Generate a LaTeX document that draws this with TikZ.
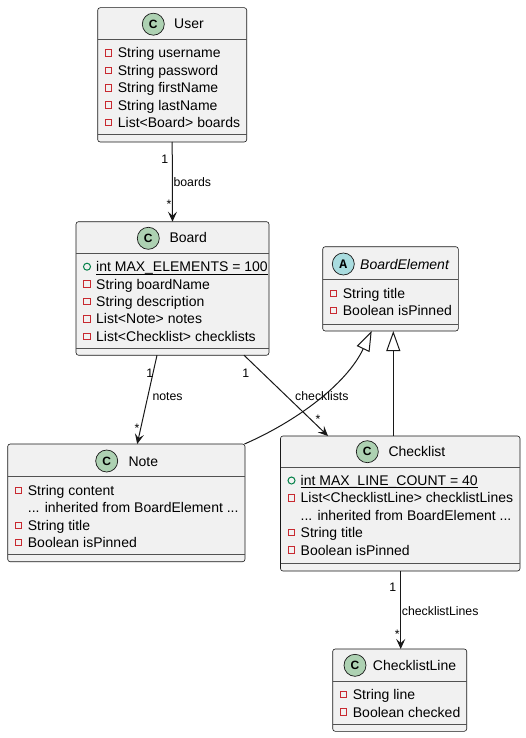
\documentclass[tikz,border=0pt]{standalone}
\usepackage{fontspec}
\setmainfont{Liberation Sans}
\newfontfamily\monob{Liberation Mono}
\usetikzlibrary{arrows.meta}
\definecolor{boxfill}{HTML}{F1F1F1}
\definecolor{boxline}{HTML}{181818}
\definecolor{cfill}{HTML}{ADD1B2}
\definecolor{afill}{HTML}{A9DCDF}
\definecolor{privred}{HTML}{C82930}
\definecolor{pubgreen}{HTML}{038048}
\tikzset{
 cbox/.style={draw=boxline, fill=boxfill, line width=0.6pt, rounded corners=2.5pt, anchor=north west, inner sep=0pt, outer sep=0pt},
 sepline/.style={draw=boxline!75, line width=0.6pt},
 cicon/.style={circle, draw=boxline, fill=cfill, line width=0.7pt, minimum size=22pt, inner sep=0pt, font=\fontsize{12}{12}\selectfont\bfseries},
 aicon/.style={cicon, fill=afill, font=\fontsize{13}{13}\selectfont\monob\bfseries},
 ctitle/.style={anchor=base west, inner sep=0pt, font=\fontsize{14}{16}\selectfont},
 attr/.style={anchor=base west, inner sep=0pt, font=\fontsize{14}{16}\selectfont},
 priv/.style={draw=privred, line width=1pt, minimum size=6.5pt, inner sep=0pt, rectangle},
 pub/.style={draw=pubgreen, line width=1pt, circle, minimum size=7pt, inner sep=0pt},
 lbl/.style={inner sep=0pt, font=\fontsize{12.3}{14}\selectfont},
 assoc/.style={draw=boxline, line width=1pt, -{Stealth[length=10pt,width=9pt,inset=4pt]}},
 inherit/.style={draw=boxline, line width=1pt, -{Triangle[open,length=20pt,width=14pt]}},
}
\newsavebox\myulbox
\newcommand\myul[1]{\sbox\myulbox{#1}\usebox\myulbox\llap{\rule[-2.9pt]{\wd\myulbox}{1pt}}}
\newcommand\myprivattr[4]{\node[priv] (#1i) at ({#2+11},{#3-5}) {}; \node[attr] (#1) at ({#2+20},#3) {#4};}
\newcommand\mypubattr[4]{\node[pub] (#1i) at ({#2+11},{#3-5}) {}; \node[attr] (#1) at ({#2+20},#3) {\myul{#4}};}
\newcommand\myplainattr[4]{\node[attr] (#1) at ({#2+20},#3) {#4};}
\begin{document}
\begin{tikzpicture}[x=1pt,y=-1pt]
\useasboundingbox (0,0) rectangle (526,738);

% ---------- User
\node[cbox, minimum width=149pt, minimum height=134.3pt] (user) at (97.7,7.7) {};
\draw[sepline] ([yshift=-31.5pt]user.north west) -- ([yshift=-31.5pt]user.north east);
\draw[sepline] ([yshift=8pt]user.south west) -- ([yshift=8pt]user.south east);
\node[cicon] (userc) at (153.3,24.2) {C};
\node[ctitle] (usert) at (174,29) {User};
\myprivattr{u1}{97.7}{58}{String username}
\myprivattr{u2}{97.7}{75.4}{String password}
\myprivattr{u3}{97.7}{92.8}{String firstName}
\myprivattr{u4}{97.7}{110.2}{String lastName}
\myprivattr{u5}{97.7}{127.6}{List<Board> boards}

% ---------- Board
\node[cbox, minimum width=193pt, minimum height=133.5pt] (board) at (76,221.7) {};
\draw[sepline] ([yshift=-31.8pt]board.north west) -- ([yshift=-31.8pt]board.north east);
\draw[sepline] ([yshift=7pt]board.south west) -- ([yshift=7pt]board.south east);
\node[cicon] (boardc) at (148.3,238.3) {C};
\node[ctitle] (boardt) at (169.3,242.7) {Board};
\mypubattr{b1}{76}{271.7}{int MAX\_ELEMENTS = 100}
\myprivattr{b2}{76}{289.1}{String boardName}
\myprivattr{b3}{76}{306.5}{String description}
\myprivattr{b4}{76}{323.9}{List<Note> notes}
\myprivattr{b5}{76}{341.3}{List<Checklist> checklists}

% ---------- BoardElement
\node[cbox, minimum width=135.6pt, minimum height=84.3pt] (boardel) at (322.7,246.7) {};
\draw[sepline] ([yshift=-32.3pt]boardel.north west) -- ([yshift=-32.3pt]boardel.north east);
\draw[sepline] ([yshift=7pt]boardel.south west) -- ([yshift=7pt]boardel.south east);
\node[aicon] (boardelc) at (343.3,264) {A};
\node[ctitle, font=\fontsize{14}{16}\selectfont\itshape] (boardelt) at (360,269) {BoardElement};
\myprivattr{e1}{322.7}{298.3}{String title}
\myprivattr{e2}{322.7}{315.7}{Boolean isPinned}

% ---------- Note
\node[cbox, minimum width=237.3pt, minimum height=117.7pt] (note) at (7.7,444) {};
\draw[sepline] ([yshift=-32pt]note.north west) -- ([yshift=-32pt]note.north east);
\draw[sepline] ([yshift=7pt]note.south west) -- ([yshift=7pt]note.south east);
\node[cicon] (notec) at (106.7,461) {C};
\node[ctitle] (notet) at (128.3,466) {Note};
\myprivattr{n1}{7.7}{495.5}{String content}
\myplainattr{n2}{7.7}{512.9}{... inherited from BoardElement ...}
\myprivattr{n3}{7.7}{530.3}{String title}
\myprivattr{n4}{7.7}{547.7}{Boolean isPinned}

% ---------- Checklist
\node[cbox, minimum width=239.5pt, minimum height=135pt] (checklist) at (280.5,436) {};
\draw[sepline] ([yshift=-31.7pt]checklist.north west) -- ([yshift=-31.7pt]checklist.north east);
\draw[sepline] ([yshift=7.5pt]checklist.south west) -- ([yshift=7.5pt]checklist.south east);
\node[cicon] (checklistc) at (367.3,451.7) {C};
\node[ctitle] (checklistt) at (388.3,456.7) {Checklist};
\mypubattr{k1}{280.5}{485.5}{int MAX\_LINE\_COUNT = 40}
\myprivattr{k2}{280.5}{502.9}{List<ChecklistLine> checklistLines}
\myplainattr{k3}{280.5}{520.3}{... inherited from BoardElement ...}
\myprivattr{k4}{280.5}{537.7}{String title}
\myprivattr{k5}{280.5}{555.1}{Boolean isPinned}

% ---------- ChecklistLine
\node[cbox, minimum width=134pt, minimum height=82.3pt] (cline) at (332.7,649) {};
\draw[sepline] ([yshift=-32.3pt]cline.north west) -- ([yshift=-32.3pt]cline.north east);
\draw[sepline] ([yshift=7pt]cline.south west) -- ([yshift=7pt]cline.south east);
\node[cicon] (clinec) at (355,665.3) {C};
\node[ctitle] (clinet) at (372.7,670.7) {ChecklistLine};
\myprivattr{l1}{332.7}{699.7}{String line}
\myprivattr{l2}{332.7}{717.1}{Boolean checked}

% ---------- connectors
\draw[assoc] (user.south) -- (board.north);
\node[lbl, anchor=base east] (ub1) at (168.3,164) {1};
\node[lbl, anchor=base west] (ubn) at (173.3,186.7) {boards};
\node[lbl, anchor=base east] (ubs) at (171.5,208) {*};

\draw[assoc] ([xshift=81pt]board.south west) -- ([xshift=129.5pt]note.north west);
\node[lbl, anchor=base east] (bn1) at (153.5,377.3) {1};
\node[lbl, anchor=base west] (bnn) at (152.3,400.7) {notes};
\node[lbl, anchor=base east] (bns) at (139.5,432.5) {*};

\draw[assoc] ([xshift=168pt]board.south west) -- ([xshift=47.5pt]checklist.north west);
\node[lbl, anchor=base east] (bc1) at (249.5,377.3) {1};
\node[lbl, anchor=base west] (bcn) at (295,400.7) {checklists};
\node[lbl, anchor=base east] (bcs) at (320.5,423.5) {*};

\draw[assoc] ([xshift=120.2pt]checklist.south west) -- ([xshift=68pt]cline.north west);
\node[lbl, anchor=base east] (cl1) at (396.3,591.7) {1};
\node[lbl, anchor=base west] (cln) at (401.7,615.7) {checklistLines};
\node[lbl, anchor=base east] (cls) at (399.8,638) {*};

\draw[inherit] ([xshift=112.8pt]checklist.north west) -- ([xshift=70.6pt]boardel.south west);
\draw[inherit] ([xshift=-0.5pt]note.north east) .. controls (295,422) and (346,385) .. ([xshift=49pt]boardel.south west);
\end{tikzpicture}
\end{document}
